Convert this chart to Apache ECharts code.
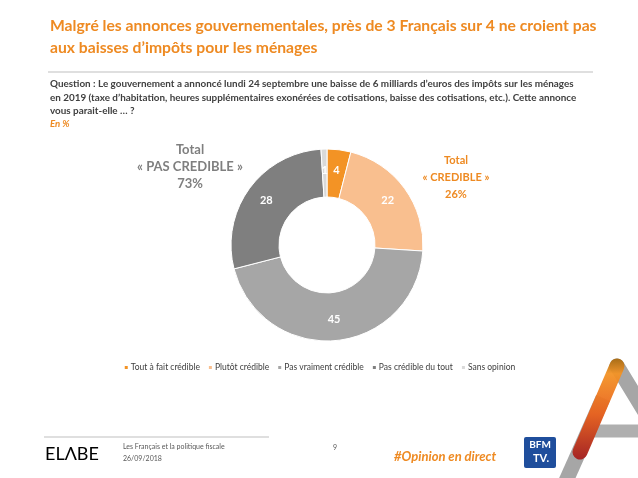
<!DOCTYPE html>
<html><head><meta charset="utf-8">
<script src="https://cdn.jsdelivr.net/npm/echarts@6/dist/echarts.min.js"></script>
<style>html,body{margin:0;padding:0;background:#fff}#c{width:638px;height:478px}</style>
</head><body><div id="c"></div>
<script>
const categories = ['Tout à fait crédible', 'Plutôt crédible', 'Pas vraiment crédible', 'Pas crédible du tout', 'Sans opinion'];
const values = [4, 22, 45, 28, 1];
const colors = ['#F39325', '#F9BF8F', '#A6A6A6', '#7F7F7F', '#D9D9D9'];
const titleLines = ['Malgré les annonces gouvernementales, près de 3 Français sur 4 ne croient pas', 'aux baisses d’impôts pour les ménages'];
const questionLines = ['Question : Le gouvernement a annoncé lundi 24 septembre une baisse de 6 milliards d’euros des impôts sur les ménages',
  'en 2019 (taxe d’habitation, heures supplémentaires exonérées de cotisations, baisse des cotisations, etc.). Cette annonce',
  'vous parait-elle … ?'];
const totalPas = ['Total', '« PAS CREDIBLE »', '73%'];
const totalCred = ['Total', '« CREDIBLE »', '26%'];

const FONT = 'Lato, "Open Sans", sans-serif';
const orange = '#EE8A22';
const chart = echarts.init(document.getElementById('c'), null, {renderer: 'canvas'});

const g = [];
titleLines.forEach((t, i) => g.push({type: 'text', left: 50, top: 18 + i * 22,
  style: {text: t, font: 'bold 15.7px ' + FONT, fill: orange}}));
g.push({type: 'line', shape: {x1: 48, y1: 72, x2: 593, y2: 72}, style: {stroke: '#BFBFBF', lineWidth: 1.2}});
questionLines.forEach((t, i) => g.push({type: 'text', left: 50, top: 79 + i * 13.5,
  style: {text: t, font: 'bold 9.9px ' + FONT, fill: '#404040'}}));
g.push({type: 'text', left: 50, top: 119, style: {text: 'En %', font: 'italic bold 9.6px ' + FONT, fill: orange}});
totalPas.forEach((t, i) => g.push({type: 'text', x: 190, y: 143 + i * 17,
  style: {text: t, font: 'bold 13px ' + FONT, fill: '#7F7F7F', align: 'center'}}));
totalCred.forEach((t, i) => g.push({type: 'text', x: 456, y: 155 + i * 17,
  style: {text: t, font: 'bold 11px ' + FONT, fill: orange, align: 'center'}}));
// footer
g.push({type: 'line', shape: {x1: 44, y1: 437, x2: 269, y2: 437}, style: {stroke: '#BFBFBF', lineWidth: 1}});
g.push({type: 'text', x: 45, y: 445, style: {text: 'ELΛBE', font: '18px ' + FONT, fill: new echarts.graphic.LinearGradient(0, 0, 1, 0, [{offset: 0, color: '#D2452A'}, {offset: 1, color: '#F28A1E'}])}});
g.push({type: 'text', x: 123, y: 443, style: {text: 'Les Français et la politique fiscale', font: '7px ' + FONT, fill: '#595959'}});
g.push({type: 'text', x: 123, y: 455, style: {text: '26/09/2018', font: '7px ' + FONT, fill: '#595959'}});
g.push({type: 'text', x: 333, y: 444, style: {text: '9', font: '7px ' + FONT, fill: '#595959'}});
g.push({type: 'text', x: 394, y: 450, style: {text: '#Opinion en direct', font: 'italic bold 13px ' + FONT, fill: orange}});
// BFM logo
g.push({type: 'rect', shape: {x: 524, y: 437, width: 32, height: 31, r: 2}, style: {fill: '#1F4E9C'}});
g.push({type: 'text', x: 540, y: 440, style: {text: 'BFM', font: 'bold 10px ' + FONT, fill: '#fff', align: 'center'}});
g.push({type: 'text', x: 541, y: 453, style: {text: 'TV.', font: 'bold 11px ' + FONT, fill: '#fff', align: 'center'}});
// A logo
g.push({type: 'line', shape: {x1: 590, y1: 431, x2: 650, y2: 431}, style: {stroke: '#A6A6A6', lineWidth: 13, opacity: 0.9}});
g.push({type: 'line', shape: {x1: 617, y1: 366, x2: 662, y2: 440}, style: {stroke: '#A6A6A6', lineWidth: 15, lineCap: 'round'}});
g.push({type: 'line', shape: {x1: 603, y1: 398, x2: 562, y2: 490}, style: {stroke: '#A6A6A6', lineWidth: 15}});
g.push({type: 'line', shape: {x1: 617, y1: 366, x2: 580, y2: 452}, style: {lineWidth: 15, lineCap: 'round', opacity: 0.95,
  stroke: new echarts.graphic.LinearGradient(0, 0, 0, 1, [{offset: 0, color: '#A86A10'}, {offset: 0.15, color: '#F39325'}, {offset: 0.55, color: '#E8601C'}, {offset: 1, color: '#A51E1E'}])}});

chart.setOption({
  animation: false,
  color: colors,
  legend: {
    data: categories, bottom: 101, left: 'center', icon: 'rect', itemWidth: 5, itemHeight: 5, itemGap: 7,
    textStyle: {fontFamily: FONT, fontSize: 8.5, color: '#404040', padding: [0, 0, 0, -3]}
  },
  series: [{
    type: 'pie', center: [327, 245], radius: [48, 96], startAngle: 90, clockwise: true,
    avoidLabelOverlap: false,
    itemStyle: {borderColor: '#fff', borderWidth: 1},
    label: {position: 'inside', formatter: '{c}', color: '#fff', fontFamily: FONT, fontWeight: 'bold', fontSize: 11},
    labelLine: {show: false},
    emphasis: {disabled: true},
    data: categories.map((n, i) => ({name: n, value: values[i]}))
  }],
  graphic: g
});
</script></body></html>
